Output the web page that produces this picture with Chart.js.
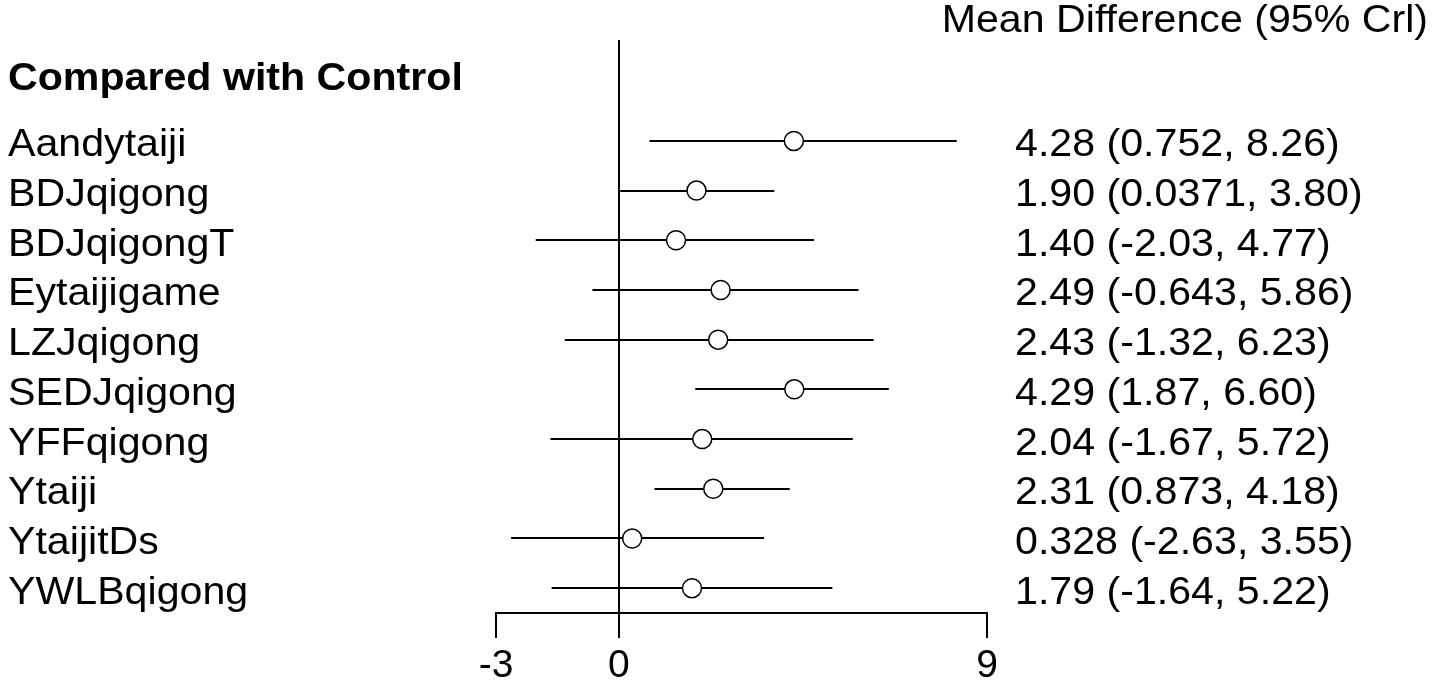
<!DOCTYPE html>
<html>
<head>
<meta charset="utf-8">
<script src="https://cdn.jsdelivr.net/npm/chart.js@4.4.1/dist/chart.umd.min.js"></script>
<style>
  html, body { margin: 0; padding: 0; background: #fff; }
  #wrap { width: 1434px; height: 683px; }
</style>
</head>
<body>
<div id="wrap"><canvas id="c" width="1434" height="683"></canvas></div>
<script>
const treatments = ["Aandytaiji", "BDJqigong", "BDJqigongT", "Eytaijigame", "LZJqigong", "SEDJqigong", "YFFqigong", "Ytaiji", "YtaijitDs", "YWLBqigong"];
const means = [4.28, 1.90, 1.40, 2.49, 2.43, 4.29, 2.04, 2.31, 0.328, 1.79];
const lower = [0.752, 0.0371, -2.03, -0.643, -1.32, 1.87, -1.67, 0.873, -2.63, -1.64];
const upper = [8.26, 3.80, 4.77, 5.86, 6.23, 6.60, 5.72, 4.18, 3.55, 5.22];
const xTicks = [-3, 0, 9];
const groupTitle = "Compared with Control";
const columnTitle = "Mean Difference (95% Crl)";

const FONT = '"Liberation Sans", Arial, sans-serif';
const FS = 39;
const SX = 1.055;

const fmt = v => Number(v).toPrecision(3);

function drawText(ctx, text, x, y, align) {
  ctx.save();
  ctx.translate(x, y);
  ctx.scale(SX, 1);
  ctx.textAlign = align;
  ctx.fillText(text, 0, 0);
  ctx.restore();
}

const forestPlugin = {
  id: 'forest',
  beforeDatasetsDraw(chart) {
    const ctx = chart.ctx, xs = chart.scales.x, ys = chart.scales.y;
    ctx.save();
    ctx.strokeStyle = '#000';
    ctx.lineWidth = 2;
    for (let i = 0; i < means.length; i++) {
      const y = Math.round(ys.getPixelForValue(i + 1));
      ctx.beginPath();
      ctx.moveTo(xs.getPixelForValue(lower[i]), y);
      ctx.lineTo(xs.getPixelForValue(upper[i]), y);
      ctx.stroke();
    }
    ctx.restore();
  },
  afterDraw(chart) {
    const ctx = chart.ctx, ys = chart.scales.y;
    ctx.save();
    ctx.fillStyle = '#000';
    ctx.textBaseline = 'alphabetic';
    ctx.font = 'bold ' + FS + 'px ' + FONT;
    drawText(ctx, groupTitle, 8, 90, 'left');
    ctx.font = FS + 'px ' + FONT;
    drawText(ctx, columnTitle, 1428, 32, 'right');
    for (let i = 0; i < means.length; i++) {
      const y = ys.getPixelForValue(i + 1) + 15.5;
      drawText(ctx, treatments[i], 8, y, 'left');
      drawText(ctx, fmt(means[i]) + ' (' + fmt(lower[i]) + ', ' + fmt(upper[i]) + ')', 1015, y, 'left');
    }
    ctx.restore();
  }
};

new Chart(document.getElementById('c'), {
  type: 'scatter',
  data: {
    datasets: [{
      data: means.map((m, i) => ({ x: m, y: i + 1 })),
      pointStyle: 'circle',
      pointRadius: 9.5,
      pointHoverRadius: 9.5,
      backgroundColor: '#fff',
      borderColor: '#000',
      borderWidth: 1.5
    }]
  },
  options: {
    responsive: false,
    devicePixelRatio: 1,
    animation: false,
    events: [],
    layout: { padding: { left: 496, right: 447, top: 40, bottom: 0 } },
    plugins: { legend: { display: false }, tooltip: { enabled: false } },
    scales: {
      x: {
        type: 'linear',
        min: -3,
        max: 9,
        afterBuildTicks: s => { s.ticks = xTicks.map(v => ({ value: v })); },
        afterFit: s => { s.height = 70; s.paddingLeft = 0; s.paddingRight = 0; },
        border: { display: true, color: '#000', width: 2 },
        grid: {
          drawOnChartArea: true,
          color: c => (c.tick && c.tick.value === 0) ? '#000' : 'rgba(0,0,0,0)',
          lineWidth: 2,
          tickColor: '#000',
          tickWidth: 2,
          tickLength: 25
        },
        ticks: {
          color: '#000',
          font: { family: FONT, size: FS },
          padding: 5,
          maxRotation: 0,
          autoSkip: false,
          callback: v => String(v)
        }
      },
      y: {
        type: 'linear',
        display: false,
        reverse: true,
        min: -1.03,
        max: 10.5
      }
    }
  },
  plugins: [forestPlugin]
});
</script>
</body>
</html>
